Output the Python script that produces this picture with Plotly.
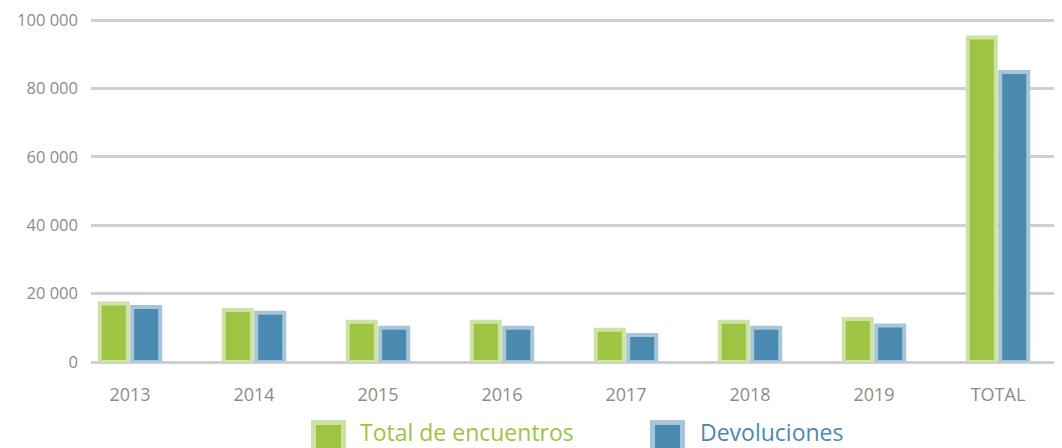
import plotly.graph_objects as go

# ---- data ----
categories = ["2013", "2014", "2015", "2016", "2017", "2018", "2019", "TOTAL"]
encuentros = [17100, 15200, 11800, 11800, 9400, 11800, 12600, 94900]
devoluciones = [16100, 14400, 10000, 10000, 7900, 10000, 10700, 84800]
y_ticks = [0, 20000, 40000, 60000, 80000, 100000]
y_tick_labels = ["0", "20 000", "40 000", "60 000", "80 000", "100 000"]
series_names = ["Total de encuentros", "Devoluciones"]

# ---- style ----
GREEN = "#9dc443"
GREEN_EDGE = "#cde2a3"
BLUE = "#4b8ab0"
BLUE_EDGE = "#a6c5d8"
GRID = "#cfcfcf"
TICK = "#8c8c8c"
FONT = "Open Sans"

OFF = 8  # page body margin
W, H = 1062 - OFF, 448 - OFF
ML, MR, MT, MB = 91 - OFF, 0, 16 - OFF, 86
PW, PH = W - ML - MR, H - MT - MB

fig = go.Figure()
fig.add_trace(go.Bar(x=categories, y=encuentros, name=series_names[0],
                     marker=dict(color=GREEN, line=dict(color=GREEN_EDGE, width=4)),
                     showlegend=False))
fig.add_trace(go.Bar(x=categories, y=devoluciones, name=series_names[1],
                     marker=dict(color=BLUE, line=dict(color=BLUE_EDGE, width=4)),
                     showlegend=False))

# legend drawn as swatches + text (large swatches like the original)
def fx(px):
    return (px - OFF - ML) / PW

def fy(py):
    return (MT + PH - (py - OFF)) / PH

legend_items = [
    (series_names[0], GREEN, GREEN_EDGE, 313.5, 358),
    (series_names[1], BLUE, BLUE_EDGE, 652.5, 698),
]
shapes = []
annotations = []
for name, col, edge, sx, tx in legend_items:
    shapes.append(dict(type="rect", xref="paper", yref="paper",
                       x0=fx(sx), x1=fx(sx + 30), y0=fy(422.5), y1=fy(452.5),
                       fillcolor=col, line=dict(color=edge, width=5), layer="above"))
    annotations.append(dict(text=name, xref="paper", yref="paper",
                            x=fx(tx), y=fy(432), xanchor="left", yanchor="middle",
                            showarrow=False, font=dict(family=FONT, size=23, color=col)))

step = 124.0
r0 = -(130 - OFF - ML) / step
r1 = r0 + PW / step

fig.update_layout(
    width=W, height=H,
    margin=dict(l=ML, r=MR, t=MT, b=MB, pad=0),
    paper_bgcolor="white", plot_bgcolor="white",
    barmode="group", bargap=0.476, bargroupgap=0.138,
    font=dict(family=FONT, color=TICK),
    shapes=shapes, annotations=annotations,
    showlegend=False,
    xaxis=dict(type="category", range=[r0, r1], showgrid=False, showline=False,
               zeroline=False, ticks="", tickfont=dict(size=18, color=TICK, family=FONT),
               ticklabelstandoff=20),
    yaxis=dict(range=[0, 101170], tickvals=y_ticks, ticktext=y_tick_labels,
               showgrid=True, gridcolor=GRID, gridwidth=3,
               zeroline=True, zerolinecolor=GRID, zerolinewidth=3,
               showline=False, ticks="", tickfont=dict(size=16.5, color=TICK, family=FONT),
               ticklabelstandoff=12, ticklabeloverflow="allow"),
)

fig.write_html("out.html")
